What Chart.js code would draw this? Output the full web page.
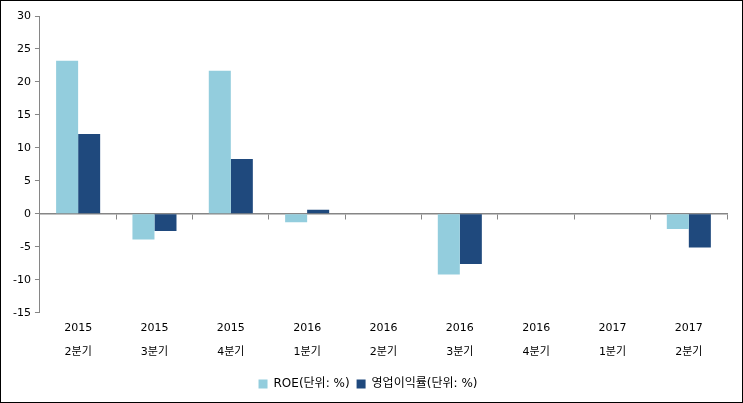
<!DOCTYPE html>
<html>
<head>
<meta charset="utf-8">
<script src="https://cdn.jsdelivr.net/npm/chart.js@4"></script>
<style>
  body { margin: 0; background: #fff; }
  #wrap { width: 743px; height: 403px; box-sizing: border-box; border: 1px solid #000; }
</style>
</head>
<body>
<div id="wrap"><canvas id="roeChart"></canvas></div>
<script>
// quarters on the x axis (year, quarter)
const years = ['2015', '2015', '2015', '2016', '2016', '2016', '2016', '2017', '2017'];
const quarters = ['2분기', '3분기', '4분기', '1분기', '2분기', '3분기', '4분기', '1분기', '2분기'];

// values in %, null where nothing was reported
const roe = [23.2, -3.9, 21.7, -1.3, null, -9.2, null, null, -2.3];
const opMargin = [12.1, -2.6, 8.3, 0.6, null, -7.6, null, null, -5.1];

const yTicks = { min: -15, max: 30, step: 5 };

const fontFamily = "'DejaVu Sans', 'Noto Sans CJK KR', sans-serif";
const axisGrey = '#868686';

const ctx = document.getElementById('roeChart').getContext('2d');

const roeChart = new Chart(ctx, {
    type: 'bar',
    data: {
        labels: years.map((y, i) => [y, quarters[i]]),
        datasets: [{
            label: 'ROE(단위: %)',
            data: roe,
            backgroundColor: '#93CDDD',
        }, {
            label: '영업이익률(단위: %)',
            data: opMargin,
            backgroundColor: '#1F497D',
        }]
    },
    options: {
        responsive: true,
        maintainAspectRatio: false,
        animation: false,
        categoryPercentage: 0.577,
        barPercentage: 1,
        layout: { padding: { left: 8, right: 15, top: 15, bottom: 2 } },
        plugins: {
            tooltip: { enabled: false },
            legend: {
                position: 'bottom',
                labels: {
                    boxWidth: 9,
                    boxHeight: 9,
                    padding: 7,
                    color: '#000',
                    font: { family: fontFamily, size: 12 }
                }
            }
        },
        scales: {
            y: {
                min: yTicks.min,
                max: yTicks.max,
                ticks: {
                    stepSize: yTicks.step,
                    color: '#000',
                    padding: 4,
                    font: { family: fontFamily, size: 11 }
                },
                grid: { drawOnChartArea: false, tickLength: 5, color: axisGrey },
                border: { color: axisGrey }
            },
            x: {
                ticks: {
                    color: '#000',
                    padding: 4,
                    font: { family: fontFamily, size: 11, lineHeight: 2.15 }
                },
                grid: { display: false, drawTicks: false },
                border: { display: false },
                // a little extra room between the quarter labels and the legend
                afterFit: (axis) => { axis.height += 3; }
            },
            // zero line with its tick marks
            x2: {
                type: 'category',
                position: { y: 0 },
                ticks: { display: false },
                grid: { drawOnChartArea: false, tickLength: 5, color: axisGrey, offset: true },
                border: { color: axisGrey, width: 1.5 }
            }
        }
    }
});
</script>
</body>
</html>
